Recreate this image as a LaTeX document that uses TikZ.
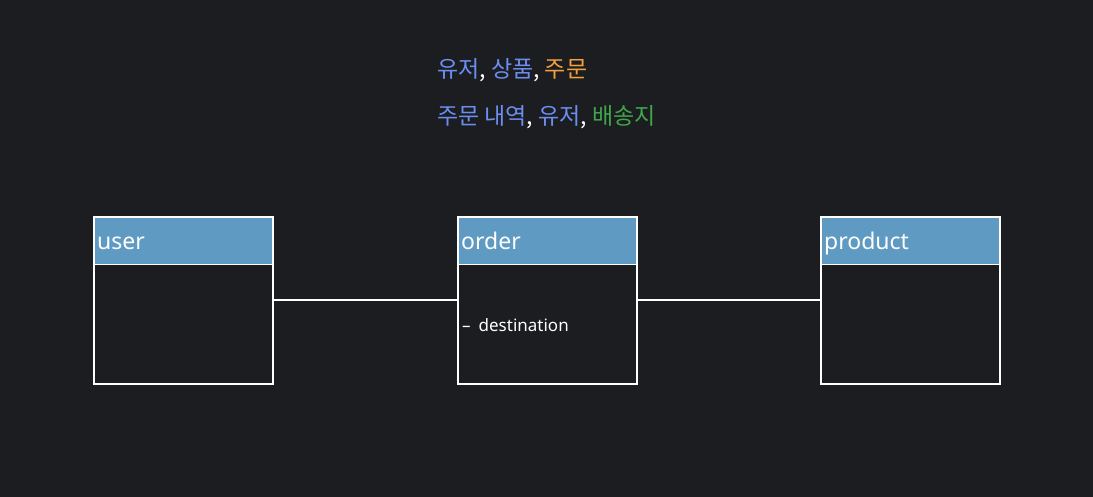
\documentclass[tikz,border=0pt]{standalone}
\usepackage{fontspec}
\setmainfont{Noto Sans}
\newfontfamily\kr{Noto Sans CJK KR}
\definecolor{bg}{HTML}{1C1D21}
\definecolor{hdr}{HTML}{5F9AC2}
\definecolor{kblue}{HTML}{6B8EF0}
\definecolor{korange}{HTML}{F2A13E}
\definecolor{kgreen}{HTML}{3FA64C}
\begin{document}
\begin{tikzpicture}[x=1pt,y=-1pt,
  boxframe/.style={draw=white,line width=1.6pt},
  hdrtext/.style={anchor=base west,inner sep=0pt,text=white,font=\fontsize{23}{25}\selectfont},
  link/.style={draw=white,line width=1.6pt}]
\fill[bg] (0,0) rectangle (1093,497);
\useasboundingbox (0,0) rectangle (1093,497);
% entity boxes
\foreach \n/\x/\t in {user/93/user,order/457/order,product/820/product}{
  \fill[hdr] (\x,216) rectangle ++(179,49);
  \draw[white,line width=1pt] (\x,265) -- ++(179,0);
  \node[boxframe,minimum width=179pt,minimum height=167pt,anchor=north west,inner sep=0pt] (\n) at (\x,216) {};
  \node[hdrtext] (\n t) at (\x+4,250) {\t};
}
\coordinate (ua) at (user.east |- 0,300);
\coordinate (oa) at (order.west |- 0,300);
\coordinate (ob) at (order.east |- 0,300);
\coordinate (pa) at (product.west |- 0,300);
\draw[link] (ua) -- (oa);
\draw[link] (ob) -- (pa);
\node[anchor=base west,inner sep=0pt,text=white,font=\fontsize{17}{20}\selectfont] (attr) at (462,331) {--\hspace{8pt}destination};
% Korean headings
\node[anchor=base west,inner sep=0pt,font=\kr\fontsize{23}{27}\selectfont] (l1) at (437,78)
  {\textcolor{kblue}{유저}\textcolor{white}{,} \textcolor{kblue}{상품}\textcolor{white}{,} \textcolor{korange}{주문}};
\node[anchor=base west,inner sep=0pt,font=\kr\fontsize{23}{27}\selectfont] (l2) at (437,125)
  {\textcolor{kblue}{주문 내역}\textcolor{white}{,} \textcolor{kblue}{유저}\textcolor{white}{,} \textcolor{kgreen}{배송지}};
\end{tikzpicture}
\end{document}
